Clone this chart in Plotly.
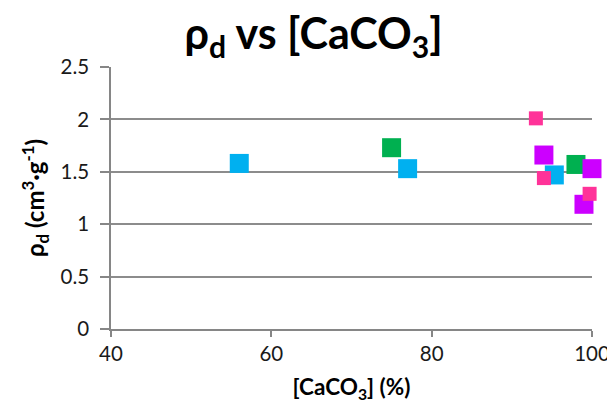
import plotly.graph_objects as go

# Data
cyan_x = [56.0, 77.0, 95.3]
cyan_y = [1.58, 1.53, 1.47]
green_x = [75.0, 98.0]
green_y = [1.73, 1.57]
purple_x = [94.0, 100.0, 99.0]
purple_y = [1.66, 1.53, 1.19]
pink_x = [93.0, 94.0, 99.7]
pink_y = [2.01, 1.44, 1.29]

x_ticks = [40, 60, 80, 100]
y_ticks = [0, 0.5, 1, 1.5, 2, 2.5]

FONT = "Lato"
AXIS_COLOR = "#868686"

fig = go.Figure()
series = [
    (cyan_x, cyan_y, "#00B0F0", 19),
    (green_x, green_y, "#00B050", 19),
    (purple_x, purple_y, "#CC00FF", 19),
    (pink_x, pink_y, "#FF3399", 14),
]
for xs, ys, col, sz in series:
    fig.add_trace(go.Scatter(
        x=xs, y=ys, mode="markers",
        marker=dict(symbol="square", size=sz, color=col, line=dict(width=0)),
        showlegend=False, cliponaxis=False,
    ))

fig.update_layout(
    width=615, height=406,
    margin=dict(l=103, r=31, t=59, b=85, autoexpand=False),
    paper_bgcolor="white", plot_bgcolor="white",
    font=dict(family=FONT, color="#000000"),
    title=dict(
        text="<b>ρ<sub>d</sub> vs [CaCO<sub>3</sub>]</b>",
        x=0.497, xanchor="center", y=0.935, yanchor="middle",
        font=dict(size=43, family=FONT, color="#000000"),
    ),
    xaxis=dict(
        range=[40, 100], tickvals=x_ticks, ticktext=[str(v) for v in x_ticks],
        showgrid=False, zeroline=False, automargin=False,
        showline=True, linecolor=AXIS_COLOR, linewidth=1.5,
        ticks="outside", ticklen=6, tickwidth=1.5, tickcolor=AXIS_COLOR,
        tickfont=dict(size=20.5, family=FONT, color="#1a1a1a"),
        title=dict(text="<b>[CaCO<sub>3</sub>] (%)</b>", font=dict(size=22.5, family=FONT, color="#000000"), standoff=15),
    ),
    yaxis=dict(
        range=[0, 2.5], tickvals=y_ticks, ticktext=["0", "0.5", "1", "1.5", "2", "2.5"],
        showgrid=True, gridcolor="#8c8c8c", gridwidth=1.5,
        zeroline=False, automargin=False,
        showline=True, linecolor=AXIS_COLOR, linewidth=1.5,
        ticks="outside", ticklen=9, tickwidth=1.5, tickcolor=AXIS_COLOR,
        tickfont=dict(size=20.5, family=FONT, color="#1a1a1a"),
        ticklabelstandoff=7,
        title=dict(text="<b>ρ<sub>d</sub> (cm<sup>3</sup>·g<sup>-1</sup>)</b>", font=dict(size=24, family=FONT, color="#000000"), standoff=9),
    ),
)

fig.write_html("out.html")
